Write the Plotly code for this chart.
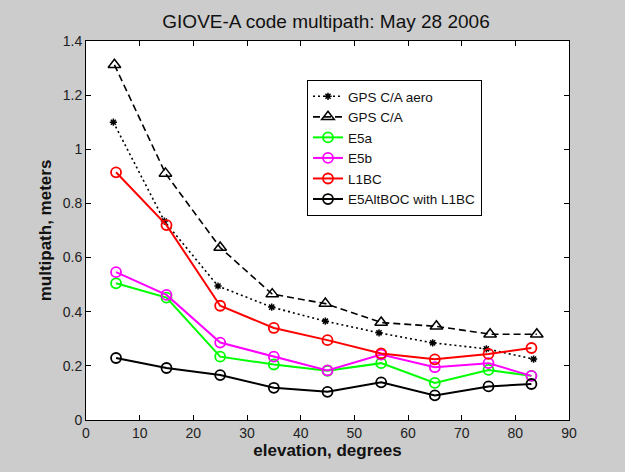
import plotly.graph_objects as go

# elevation (degrees)
x_aero = [5.1, 14.6, 24.6, 34.6, 44.6, 54.6, 64.6, 74.6, 83.4]
x_gps = [5.3, 14.8, 25.0, 34.7, 44.6, 55.0, 65.3, 75.3, 84.0]
x_circ = [5.6, 15.0, 25.0, 35.0, 45.0, 55.0, 65.0, 75.0, 83.0]

gps_aero = [1.10, 0.735, 0.495, 0.417, 0.365, 0.322, 0.285, 0.263, 0.225]
gps_ca = [1.312, 0.911, 0.637, 0.465, 0.430, 0.360, 0.346, 0.317, 0.317]
e5a = [0.505, 0.452, 0.234, 0.205, 0.182, 0.210, 0.137, 0.185, 0.163]
e5b = [0.546, 0.462, 0.286, 0.234, 0.183, 0.242, 0.195, 0.210, 0.163]
l1bc = [0.915, 0.720, 0.422, 0.340, 0.295, 0.246, 0.224, 0.244, 0.266]
altboc = [0.229, 0.192, 0.166, 0.119, 0.104, 0.139, 0.091, 0.124, 0.133]

x_ticks = [0, 10, 20, 30, 40, 50, 60, 70, 80, 90]
y_ticks = [0, 0.2, 0.4, 0.6, 0.8, 1.0, 1.2, 1.4]

fig = go.Figure()
fig.add_trace(go.Scatter(x=x_aero, y=gps_aero, name="GPS C/A aero", mode="lines+markers",
                         line=dict(color="black", width=1.6, dash="2px,3px"),
                         marker=dict(symbol="asterisk-open", size=6, color="black",
                                     line=dict(width=1.5, color="black"))))
fig.add_trace(go.Scatter(x=x_gps, y=gps_ca, name="GPS C/A", mode="lines+markers",
                         line=dict(color="black", width=1.6, dash="7px,4px"),
                         marker=dict(symbol="triangle-up-open", size=11, color="black",
                                     line=dict(width=1.5, color="black"))))
for name, ys, col in [("E5a", e5a, "#00ff00"), ("E5b", e5b, "#ff00ff"),
                      ("L1BC", l1bc, "#ff0000"), ("E5AltBOC with L1BC", altboc, "black")]:
    fig.add_trace(go.Scatter(x=x_circ, y=ys, name=name, mode="lines+markers",
                             line=dict(color=col, width=2),
                             marker=dict(symbol="circle-open", size=10, color=col,
                                         line=dict(width=1.8, color=col))))

axis_common = dict(showline=True, linecolor="black", linewidth=1, mirror="ticks",
                   ticks="inside", ticklen=5, tickcolor="black", showgrid=False,
                   zeroline=False, tickfont=dict(family="Arial", size=14, color="#222222"))

fig.update_layout(
    width=625, height=472,
    margin=dict(l=86, r=56, t=41, b=52),
    paper_bgcolor="#cccccc", plot_bgcolor="white",
    title=dict(text="GIOVE-A code multipath: May 28 2006", x=326 / 625,
               xanchor="center", y=1 - 21 / 472, yanchor="middle",
               font=dict(family="Arial", size=19, color="#111111")),
    xaxis=dict(range=[0, 90], tickvals=x_ticks, title=dict(text="<b>elevation, degrees</b>",
               font=dict(family="Arial", size=17, color="#111111"), standoff=3), **axis_common),
    yaxis=dict(range=[0, 1.4], tickvals=y_ticks, title=dict(text="<b>multipath, meters</b>",
               font=dict(family="Arial", size=17, color="#111111"), standoff=6), **axis_common),
    legend=dict(x=(307 - 86) / 483, y=(420 - 80) / 379, xanchor="left", yanchor="top",
                bgcolor="white", bordercolor="black", borderwidth=1,
                font=dict(family="Arial", size=13.5, color="#111111"),
                tracegroupgap=0, itemwidth=30),
    showlegend=True,
)

fig.write_html("out.html", config={"displayModeBar": False},
               post_script="document.body.style.margin='0';")
